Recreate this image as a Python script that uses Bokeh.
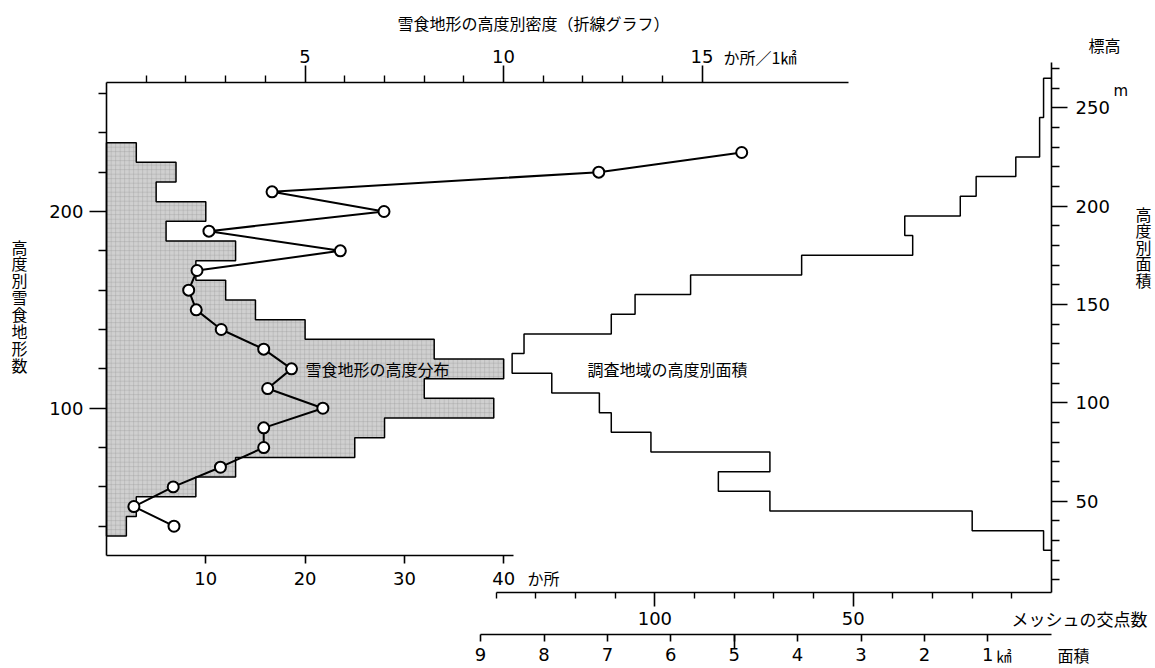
from bokeh.plotting import figure
from bokeh.models import Range1d, LinearAxis, FixedTicker, Label, ColumnDataSource
from bokeh.embed import file_html
from bokeh.resources import INLINE

# ---------------- data ----------------
# elevation band centres (m) of the snow-erosion landforms (10 m bands)
hist_elev = [40, 50, 60, 70, 80, 90, 100, 110, 120, 130,
             140, 150, 160, 170, 180, 190, 200, 210, 220, 230]
# number of snow-erosion landforms per band (histogram, lower axis "か所")
hist_counts = [2, 3, 9, 13, 25, 28, 39, 32, 40, 33,
               20, 15, 12, 9, 13, 6, 10, 5, 7, 3]
# density of landforms per band (line graph, upper axis "か所／1㎢")
density = [1.70, 0.69, 1.68, 2.87, 3.96, 3.96, 5.45, 4.06, 4.66, 3.96,
           2.89, 2.26, 2.07, 2.28, 5.89, 2.58, 6.99, 4.17, 12.4, 16.0]
# elevation band centres of the survey-area hypsometry
area_elev = [30, 40, 50, 60, 70, 80, 90, 100, 110, 120, 130, 140,
             150, 160, 170, 180, 190, 200, 210, 220, 230, 240, 250, 260]
# mesh intersection counts per band (right-hand step line)
mesh_counts = [2, 20, 71, 84, 71, 101, 111, 114, 126, 136, 133, 111,
               105, 91, 63, 35, 37, 23, 19, 9, 3, 3, 2, 2]

dens_ticks = [5, 10, 15]
hist_ticks = [10, 20, 30, 40]
mesh_ticks = [50, 100]
area_ticks = [1, 2, 3, 4, 5, 6, 7, 8, 9]
left_ticks = [100, 200]
right_ticks = [50, 100, 150, 200, 250]

BAND = 10.0

# ---------------- layout geometry (canvas pixels) ----------------
L, R, T, B = 0, 1155, 0, 668
X0, SX = 106.0, 9.93        # x of count 0, px per landform count
Y100, SY = 407.7, 1.967     # y of 100 m, px per metre
DX0, DSX = 106.0, 39.7      # density axis
MX0, MSX = 1051.0, 3.966    # mesh axis (grows to the left)
AX0, ASX = 1050.7, 63.4     # area axis (grows to the left)
RSHIFT = 2.75               # right elevation axis offset (m)


def u(px):
    return (px - X0) / SX


def ev(py):
    return 100 + (Y100 - py) / SY


p = figure(width=R - L, height=B - T,
           x_range=Range1d(u(L), u(R)), y_range=Range1d(ev(B), ev(T)),
           output_backend="svg", toolbar_location=None,
           x_axis_type=None, y_axis_type=None, min_border=0)
p.outline_line_color = None
p.background_fill_color = "white"
p.border_fill_color = "white"

p.extra_x_ranges = {
    "dens": Range1d((L - DX0) / DSX, (R - DX0) / DSX),
    "mesh": Range1d((MX0 - L) / MSX, (MX0 - R) / MSX),
    "area": Range1d((AX0 - L) / ASX, (AX0 - R) / ASX),
}
p.extra_y_ranges = {"right": Range1d(ev(B) - RSHIFT, ev(T) - RSHIFT)}


def step_outline(centers, vals):
    xs = [0]
    ys = [centers[0] - BAND / 2]
    for c, v in zip(centers, vals):
        xs += [v, v]
        ys += [c - BAND / 2, c + BAND / 2]
    xs.append(0)
    ys.append(centers[-1] + BAND / 2)
    return xs, ys


# histogram of landforms
hx, hy = step_outline(hist_elev, hist_counts)
p.patch(hx, hy, fill_color="#d0d0d0", line_color="black", line_width=1.5,
        hatch_pattern="+", hatch_color="#9a9a9a", hatch_scale=4.5,
        hatch_weight=0.7, hatch_alpha=0.55)

# survey-area hypsometry (step line)
sx, sy = step_outline(area_elev, mesh_counts)
p.line(sx, sy, x_range_name="mesh", y_range_name="right",
       line_color="black", line_width=1.5)

# density line
src = ColumnDataSource(dict(d=density, e=hist_elev))
p.line("d", "e", source=src, x_range_name="dens", line_color="black",
       line_width=2)
p.scatter("d", "e", source=src, x_range_name="dens", size=11,
          fill_color="white", line_color="black", line_width=2)

NUMF = "DejaVu Sans"
JPF = "Noto Sans CJK JP"


def style(ax, major_out, minor_out, standoff):
    ax.axis_line_color = "black"
    ax.axis_line_width = 1.6
    ax.major_tick_line_color = "black"
    ax.major_tick_line_width = 1.6
    ax.minor_tick_line_color = "black"
    ax.minor_tick_line_width = 1.4
    ax.major_tick_in = 0
    ax.minor_tick_in = 0
    ax.major_tick_out = major_out
    ax.minor_tick_out = minor_out
    ax.major_label_standoff = standoff
    ax.major_label_text_font = NUMF
    ax.major_label_text_font_size = "18px"
    ax.major_label_text_color = "black"


# upper density axis
ax_d = LinearAxis(x_range_name="dens", fixed_location=ev(82), bounds=(0, 18.7),
                  ticker=FixedTicker(ticks=dens_ticks,
                                     minor_ticks=[i for i in range(1, 15) if i % 5]))
style(ax_d, 17, 7, 3)
p.add_layout(ax_d, "above")

# left elevation axis
ax_l = LinearAxis(fixed_location=0, bounds=(25, ev(82)),
                  ticker=FixedTicker(ticks=left_ticks,
                                     minor_ticks=[40, 60, 80, 120, 140, 160, 180, 220, 240, 260]))
style(ax_l, 17, 8, 6)
p.add_layout(ax_l, "left")

# lower histogram axis
ax_h = LinearAxis(fixed_location=25, bounds=(0, 41),
                  ticker=FixedTicker(ticks=hist_ticks, minor_ticks=[]))
style(ax_h, 8, 0, 8)
p.add_layout(ax_h, "below")

# right elevation axis
ax_r = LinearAxis(y_range_name="right", x_range_name="mesh", fixed_location=0,
                  bounds=(ev(592) - RSHIFT, ev(62) - RSHIFT),
                  ticker=FixedTicker(ticks=right_ticks,
                                     minor_ticks=[v for v in range(10, 280, 10) if v % 50]))
style(ax_r, 16, 8, 8)
p.add_layout(ax_r, "right")

# mesh-count axis
ax_m = LinearAxis(x_range_name="mesh", fixed_location=ev(592), bounds=(0, 140),
                  ticker=FixedTicker(ticks=mesh_ticks,
                                     minor_ticks=[v for v in range(10, 150, 10) if v % 50]))
style(ax_m, 14, 6, 5)
p.add_layout(ax_m, "below")

# area axis
ax_a = LinearAxis(x_range_name="area", fixed_location=ev(634), bounds=(0, 9),
                  ticker=FixedTicker(ticks=area_ticks, minor_ticks=[]))
style(ax_a, 7, 0, 6)
p.add_layout(ax_a, "below")
ax_a5 = LinearAxis(x_range_name="area", fixed_location=ev(634), bounds=(0, 9),
                   ticker=FixedTicker(ticks=[5], minor_ticks=[]))
style(ax_a5, 14, 0, 6)
ax_a5.axis_line_color = None
ax_a5.major_label_text_alpha = 0
p.add_layout(ax_a5, "below")


def lab(text, px, py, size="16px", align="left", font=JPF):
    p.add_layout(Label(x=u(px), y=ev(py), text=text, text_font=font,
                       text_font_size=size, text_align=align,
                       text_baseline="middle", text_color="black"))


lab("雪食地形の高度別密度（折線グラフ）", 533, 22, "16px", "center")
lab("か所／1㎢", 723, 56)
lab("か所", 527, 577)
lab("雪食地形の高度分布", 305, 368)
lab("調査地域の高度別面積", 587, 368)
lab("メッシュの交点数", 1147, 618, "17px", "right")
lab("面積", 1057, 654)
lab("㎢", 996, 655, "15px")
lab("標高", 1104, 44, "16px", "center")
lab("m", 1113, 90, "15px", "left", NUMF)

for i, ch in enumerate("高度別雪食地形数"):
    lab(ch, 19, 246 + i * 16.9, "16px", "center")
for i, ch in enumerate("高度別面積"):
    lab(ch, 1143, 213 + i * 16.6, "16px", "center")

open("out.html", "w").write(file_html(p, INLINE))
